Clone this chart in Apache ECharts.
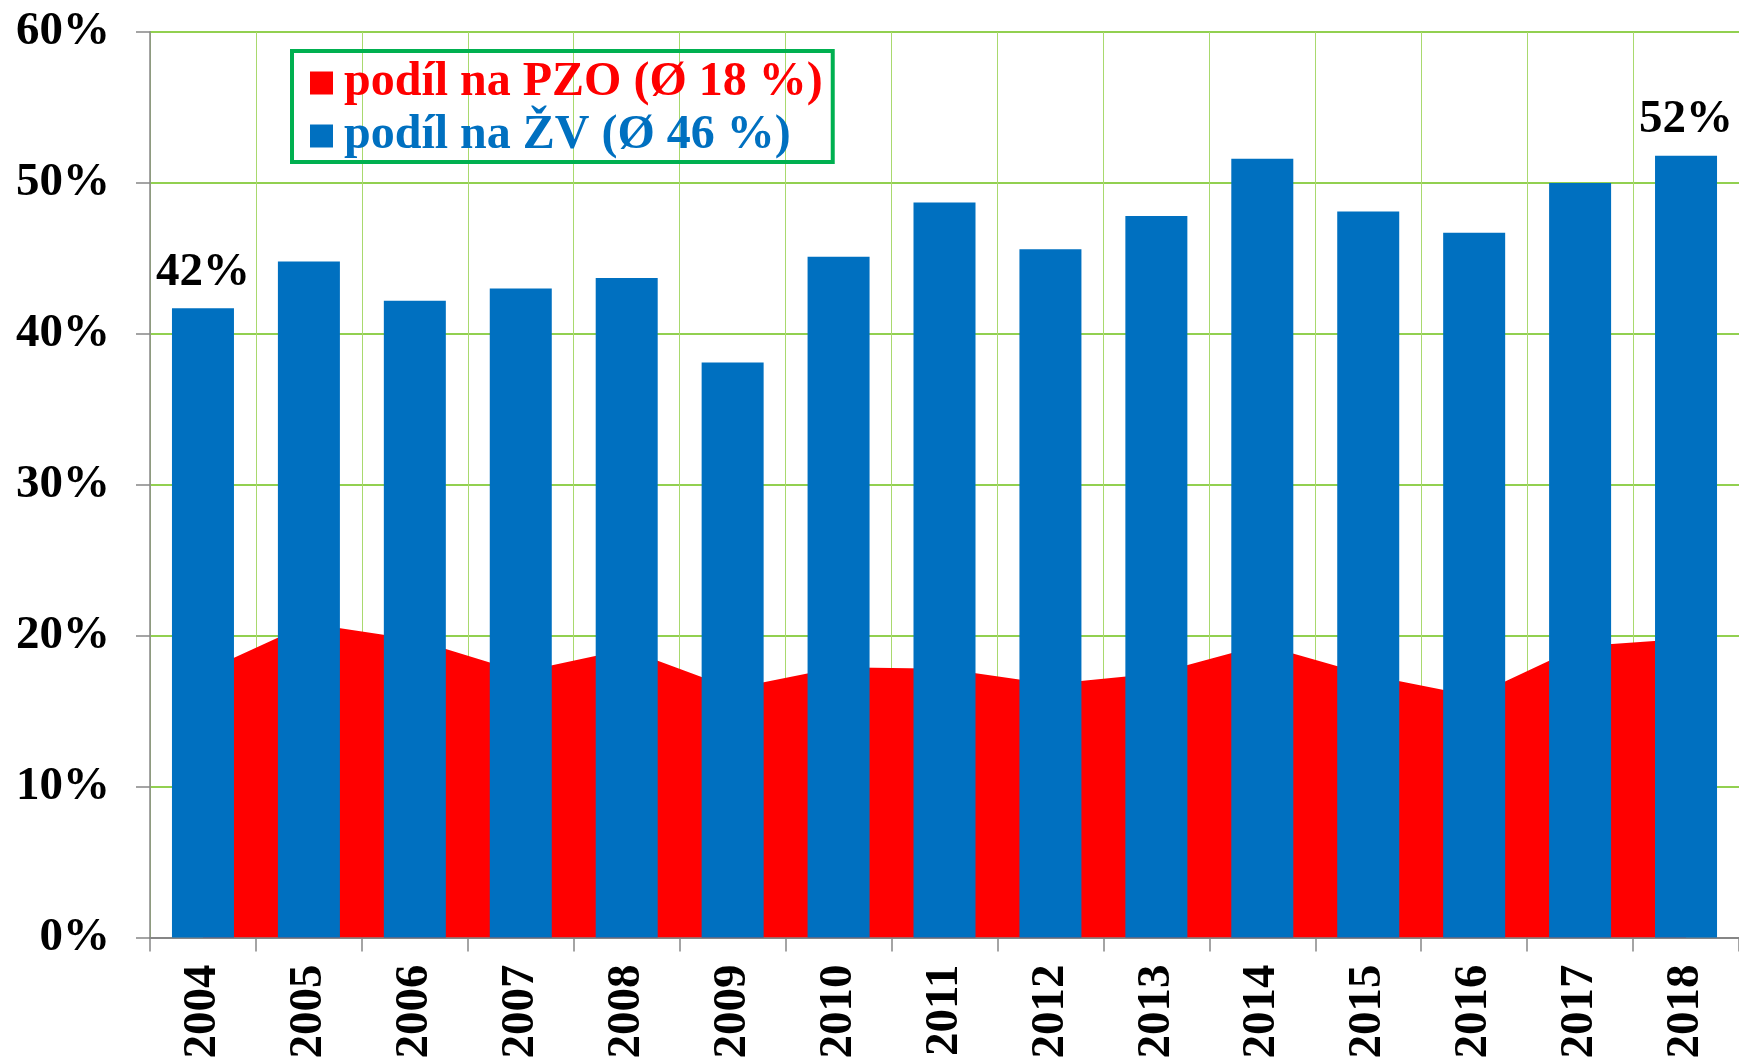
<!DOCTYPE html>
<html>
<head>
<meta charset="utf-8">
<script src="https://cdn.jsdelivr.net/npm/echarts@6/dist/echarts.min.js"></script>
<style>
  html, body { margin: 0; padding: 0; background: #fff; }
  #chart { width: 1739px; height: 1063px; }
</style>
</head>
<body>
<div id="chart"></div>
<script>
const years = ["2004", "2005", "2006", "2007", "2008", "2009", "2010", "2011", "2012", "2013", "2014", "2015", "2016", "2017", "2018"];
// podíl na PZO (%)
const pzoShare = [17.6, 20.8, 19.75, 17.6, 19.1, 16.5, 17.9, 17.8, 16.8, 17.5, 19.4, 17.4, 16.0, 19.3, 19.8];
// podíl na ŽV (%)
const zvShare = [41.7, 44.8, 42.2, 43.0, 43.7, 38.1, 45.1, 48.7, 45.6, 47.8, 51.6, 48.1, 46.7, 50.0, 51.8];
const yTicks = [0, 10, 20, 30, 40, 50, 60];

const pzoName = "podíl na PZO (Ø 18 %)";
const zvName = "podíl na ŽV (Ø 46 %)";
const serif = "'Liberation Serif', 'Times New Roman', serif";

const chart = echarts.init(document.getElementById("chart"));

// only first and last bar carry a value label
const zvData = zvShare.map((v, i) => {
  const labelled = i === 0 || i === zvShare.length - 1;
  return { value: v, label: { show: labelled } };
});

const option = {
  animation: false,
  grid: { left: 150, right: -5, top: 32, bottom: 125.5, containLabel: false },
  legend: {
    orient: "vertical",
    left: 292,
    top: 51,
    icon: "rect",
    itemWidth: 23,
    itemHeight: 23,
    itemGap: 5,
    padding: [8, 10, 2, 18],
    borderColor: "#00B050",
    borderWidth: 4,
    textStyle: {
      fontFamily: serif,
      fontWeight: "bold",
      fontSize: 48,
      lineHeight: 48,
      padding: [0, 0, 0, 6],
    },
    data: [
      { name: pzoName, textStyle: { color: "#FF0000" } },
      { name: zvName, textStyle: { color: "#0070C0" } },
    ],
  },
  xAxis: {
    type: "category",
    data: years,
    axisLine: { lineStyle: { color: "#868686", width: 2 } },
    axisTick: { show: true, length: 14, interval: 0, lineStyle: { color: "#868686", width: 1.5 } },
    axisLabel: {
      rotate: 90,
      interval: 0,
      margin: 27,
      color: "#000",
      fontFamily: serif,
      fontWeight: "bold",
      fontSize: 47,
    },
    splitLine: { show: true, interval: 0, lineStyle: { color: "#A9D96E", width: 1 } },
  },
  yAxis: {
    type: "value",
    min: yTicks[0],
    max: yTicks[yTicks.length - 1],
    interval: 10,
    axisLine: { show: true, lineStyle: { color: "#868686", width: 1.5 } },
    axisTick: { show: true, length: 14, lineStyle: { color: "#868686", width: 1.5 } },
    axisLabel: {
      formatter: "{value}%",
      margin: 40,
      color: "#000",
      fontFamily: serif,
      fontWeight: "bold",
      fontSize: 47,
    },
    splitLine: { show: true, lineStyle: { color: "#92D050", width: 2 } },
  },
  series: [
    {
      name: pzoName,
      type: "line",
      data: pzoShare,
      symbol: "none",
      z: 1,
      itemStyle: { color: "#FF0000" },
      lineStyle: { width: 0 },
      areaStyle: { color: "#FF0000", opacity: 1 },
    },
    {
      name: zvName,
      type: "bar",
      data: zvData,
      barWidth: 62,
      z: 3,
      itemStyle: { color: "#0070C0" },
      label: {
        position: "top",
        distance: 12,
        formatter: (p) => Math.round(p.value) + "%",
        color: "#000",
        fontFamily: serif,
        fontWeight: "bold",
        fontSize: 47,
      },
    },
  ],
};

chart.setOption(option);
</script>
</body>
</html>
